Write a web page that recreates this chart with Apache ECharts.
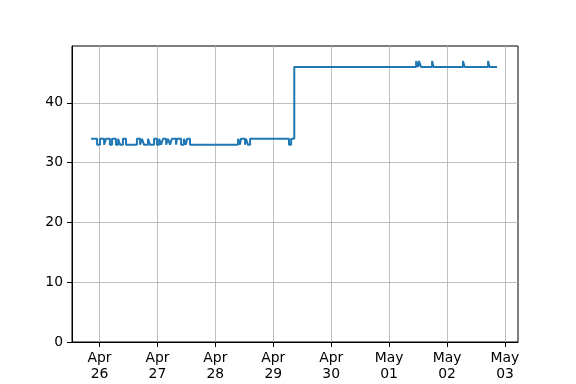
<!DOCTYPE html>
<html>
<head>
<meta charset="utf-8">
<script src="https://cdn.jsdelivr.net/npm/echarts@6/dist/echarts.min.js"></script>
<style>html,body{margin:0;padding:0;background:#fff}#c{width:576px;height:384px}</style>
</head>
<body>
<div id="c"></div>
<script>
// change points: hours relative to Apr 26 00:00, and the value held from that time on
const hours = [
  -3.5,-1.0,0.2,1.9,2.7,4.3,5.2,6.8,7.7,8.5,9.7,11.0,
  15.5,16.8,17.6,18.4,20.1,20.9,22.6,23.8,24.7,25.5,26.3,27.6,28.4,29.2,30.0,31.7,32.1,33.8,35.0,35.8,36.3,37.5,
  57.4,58.2,58.6,60.3,60.7,61.5,62.4,
  78.5,79.4,80.7,
  131.2,132.0,132.4,133.2,137.8,138.4,150.6,151.3,161.0,161.6,164.7
];
const values = [
  34,33,34,33,34,33,34,33,34,33,34,33,
  34,33,34,33,34,33,34,33,34,33,34,33,34,33,34,33,34,33,34,33,34,33,
  34,33,34,33,34,33,34,
  33,34,46,
  47,46,47,46,47,46,47,46,47,46,46
];
const tickHours = [0,24,48,72,96,120,144,168];
const tickLabels = ['Apr\n26','Apr\n27','Apr\n28','Apr\n29','Apr\n30','May\n01','May\n02','May\n03'];
const yTicks = [0,10,20,30,40];

const data = hours.map((h,i)=>[h, values[i]]);
const chart = echarts.init(document.getElementById('c'));
const font = 'DejaVu Sans';
chart.setOption({
  animation:false,
  backgroundColor:'#fff',
  grid:{left:72,right:58,top:46,bottom:42,show:true,borderColor:'#000',borderWidth:1,backgroundColor:'transparent'},
  xAxis:{
    type:'value', min:-11.4, max:173.4,
    axisLine:{show:true,onZero:false,lineStyle:{color:'#000',width:1}},
    axisTick:{show:true,inside:false,length:5,customValues:tickHours,lineStyle:{color:'#000',width:1}},
    axisLabel:{customValues:tickHours,margin:8,fontFamily:font,fontSize:13.9,lineHeight:16.5,color:'#000',
      formatter:(v)=>{const k=tickHours.indexOf(v);return k>=0?tickLabels[k]:'';}},
    splitLine:{show:true,lineStyle:{color:'#b0b0b0',width:0.8}}
  },
  yAxis:{
    type:'value', min:0, max:49.5,
    axisLine:{show:true,onZero:false,lineStyle:{color:'#000',width:1}},
    axisTick:{show:true,inside:false,length:5,customValues:yTicks,lineStyle:{color:'#000',width:1}},
    axisLabel:{customValues:yTicks,margin:9,fontFamily:font,fontSize:13.9,color:'#000'},
    splitLine:{show:true,lineStyle:{color:'#b0b0b0',width:0.8}}
  },
  series:[{
    type:'line', data:data, step:'end', showSymbol:false, symbol:'none',
    lineStyle:{color:'#1f77b4',width:2}, itemStyle:{color:'#1f77b4'}
  }]
});
</script>
</body>
</html>
